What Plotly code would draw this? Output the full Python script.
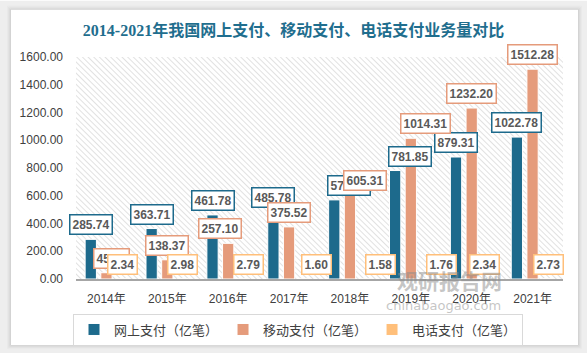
import base64
import plotly.graph_objects as go

# ---------------- data ----------------
years = ['2014年', '2015年', '2016年', '2017年', '2018年', '2019年', '2020年', '2021年']
online = [285.74, 363.71, 461.78, 485.78, 570.13, 781.85, 879.31, 1022.78]
mobile = [45.24, 138.37, 257.10, 375.52, 605.31, 1014.31, 1232.20, 1512.28]
phone = [2.34, 2.98, 2.79, 1.60, 1.58, 1.76, 2.34, 2.73]
series_names = ['网上支付（亿笔）', '移动支付（亿笔）', '电话支付（亿笔）']
title_text = '2014-2021年我国网上支付、移动支付、电话支付业务量对比'
y_ticks = [0, 200, 400, 600, 800, 1000, 1200, 1400, 1600]

# ---------------- style ----------------
colors = ['#1d6a8c', '#e59b7b', '#ffbf7a']
label_nudge = [  # px horizontal nudges of the data labels (manual placement in source)
    [0, 0, 0, 0, 15, 15, 0, 0],
    [5, 0, -8, 0, 15, 15, 0, 0],
    [0, 0, 5, 12, 15, 15, -3, 0],
]
W, H = 587, 357
L, R, T, B = 76, 24, 57, 75
PW, PH = W - L - R, H - T - B
BARGAP = 0.228
GROUPGAP = 0.28


def px_x(px):
    return (px - L) / PW


def px_y(py):
    return (H - B - py) / PH


fig = go.Figure()
for name, vals, col in zip(series_names, [online, mobile, phone], colors):
    fig.add_trace(go.Bar(
        x=list(range(len(years))), y=vals, name=name,
        marker=dict(color=col, line=dict(color='white', width=1)),
        hoverinfo='y',
    ))

# data labels in boxes
slot = (1 - BARGAP) / 3
for k, (vals, col) in enumerate(zip([online, mobile, phone], colors)):
    for i, v in enumerate(vals):
        fig.add_annotation(
            x=i + (k - 1) * slot, y=v, xref='x', yref='y',
            text=f'{v:.2f}', showarrow=False,
            yanchor='bottom', xanchor='center', yshift=4,
            xshift=label_nudge[k][i],
            font=dict(family='Liberation Sans, Arial', size=12, color='#595959', weight='bold'),
            bgcolor='white', bordercolor=col, borderwidth=1.5, borderpad=2,
        )

# hatched plot background
svg = (f'<svg xmlns="http://www.w3.org/2000/svg" width="{PW}" height="{PH}">'
       '<defs><pattern id="h" width="4" height="4" patternUnits="userSpaceOnUse" '
       'patternTransform="rotate(-45)"><line x1="0" y1="0" x2="0" y2="4" '
       'stroke="#c4c4c4" stroke-width="1"/></pattern></defs>'
       '<rect width="100%" height="100%" fill="url(#h)"/></svg>')
src = 'data:image/svg+xml;base64,' + base64.b64encode(svg.encode()).decode()
fig.add_layout_image(dict(source=src, xref='paper', yref='paper', x=0, y=1,
                          sizex=1, sizey=1, xanchor='left', yanchor='top',
                          sizing='stretch', layer='below'))

# card frame + shadow
cx0, cx1, cy0, cy1 = 11, 578, 9, 349
fx0, fx1, fy0, fy1 = px_x(0), px_x(W), px_y(0), px_y(H)
kx0, kx1, ky0, ky1 = px_x(cx0), px_x(cx1), px_y(cy0), px_y(cy1)
path = (f'M{fx0},{fy0} L{fx1},{fy0} L{fx1},{fy1} L{fx0},{fy1} Z '
        f'M{kx0},{ky0} L{kx1},{ky0} L{kx1},{ky1} L{kx0},{ky1} Z')
fig.add_shape(type='path', path=path, xref='paper', yref='paper',
              fillcolor='#eeeeee', fillrule='evenodd', line=dict(width=0), layer='below')
for d, c in [(4, '#e9e9e9'), (3, '#e3e3e3'), (2, '#dcdcdc'), (1, '#d3d3d3')]:
    fig.add_shape(type='rect', xref='paper', yref='paper',
                  x0=px_x(cx0 - d + 0.5), x1=px_x(cx1 + d - 0.5),
                  y0=px_y(cy1 + d - 0.5), y1=px_y(cy0 - d + 0.5),
                  line=dict(color=c, width=1), fillcolor='rgba(0,0,0,0)', layer='below')

# watermark
fig.add_annotation(text='观研报告网', xref='paper', yref='paper', x=px_x(504), y=px_y(300),
                   showarrow=False, font=dict(family='Noto Sans CJK SC', size=21,
                                              color='rgba(140,140,140,0.5)', weight='bold'))
fig.add_annotation(text='chinabaogao.com', xref='paper', yref='paper', x=px_x(503), y=px_y(318),
                   showarrow=False, font=dict(family='DejaVu Sans', size=13,
                                              color='rgba(140,140,140,0.5)'))

fig.update_layout(
    width=W, height=H,
    margin=dict(l=L, r=R, t=T, b=B, pad=0),
    paper_bgcolor='white', plot_bgcolor='rgba(0,0,0,0)',
    barmode='group', bargap=BARGAP, bargroupgap=GROUPGAP,
    title=dict(text=title_text, x=0.5, xanchor='center', xref='container',
               y=1 - 30 / H, yanchor='middle', yref='container',
               font=dict(family='Liberation Serif, Noto Sans CJK SC', size=16,
                         color='#1f6e8e', weight='bold')),
    showlegend=True,
    legend=dict(orientation='h', x=px_x(73), y=px_y(317), xanchor='left', yanchor='top',
                bgcolor='white', bordercolor='#d9d9d9', borderwidth=1,
                font=dict(family='Noto Sans CJK SC', size=13, color='#404040'),
                traceorder='normal'),
    xaxis=dict(tickmode='array', tickvals=list(range(len(years))), ticktext=years,
               range=[-0.5, len(years) - 0.5], showline=True, linecolor='#a6a6a6',
               linewidth=1.5, ticks='', showgrid=False, zeroline=False,
               tickfont=dict(family='Liberation Sans, Noto Sans CJK SC', size=12, color='#404040'),
               ticklabelstandoff=8),
    yaxis=dict(range=[0, 1600], tickmode='array', tickvals=y_ticks,
               ticktext=[f'{t:.2f}' for t in y_ticks], showgrid=False, zeroline=False,
               showline=False, ticks='',
               tickfont=dict(family='Liberation Sans, Arial', size=12, color='#404040'),
               ticklabelstandoff=12),
    hovermode='closest',
)

fig.write_html('out.html', config={'displayModeBar': False},
               post_script="document.body.style.margin='0';document.body.style.padding='0';")
